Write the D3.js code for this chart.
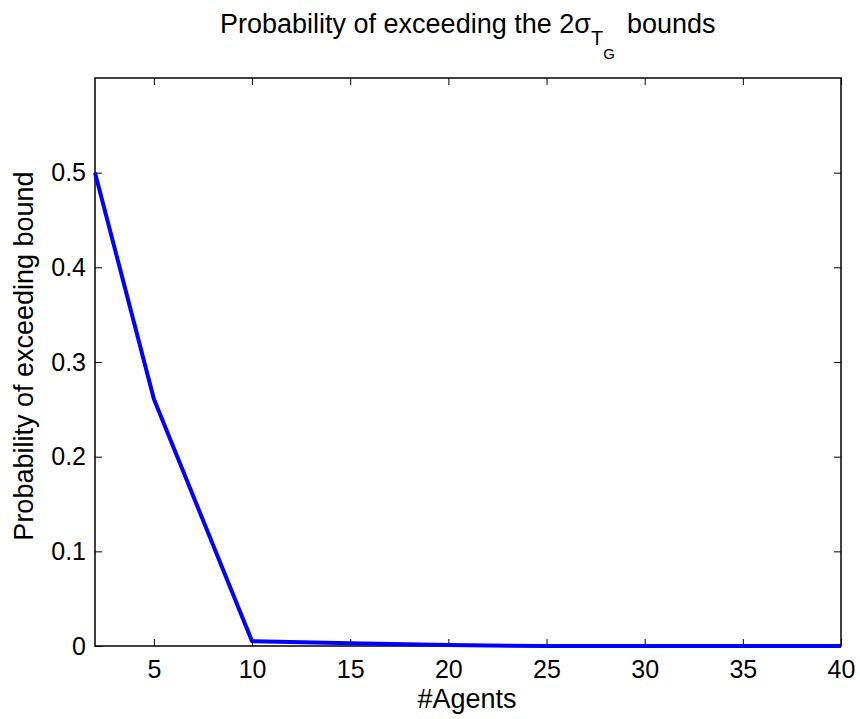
<!DOCTYPE html>
<html lang='en'>
<head>
  <meta charset='UTF-8'>
  <title>Probability of exceeding bound</title>
  <script src="https://d3js.org/d3.v7.min.js"></script>
  <style>
    body { margin: 0; background: #fff; }
    svg text { font-family: 'Liberation Sans', Arial, sans-serif; fill: #000; }
  </style>
</head>
<body>
  <div id="chart"></div>
  <script>
    const agents = [2, 5, 10, 15, 20, 25, 30, 35, 40];
    const probability = [0.5, 0.261, 0.005, 0.003, 0.001, 0, 0, 0, 0];
    const xTicks = [5, 10, 15, 20, 25, 30, 35, 40];
    const yTicks = [0, 0.1, 0.2, 0.3, 0.4, 0.5];

    const width = 860, height = 719;
    const margin = { top: 78, right: 19, bottom: 73, left: 95 };

    const svg = d3.select('#chart')
      .append('svg')
      .attr('width', width)
      .attr('height', height);

    const xScale = d3.scaleLinear()
      .domain([2, 40])
      .range([margin.left, width - margin.right]);

    const yScale = d3.scaleLinear()
      .domain([0, 0.6])
      .range([height - margin.bottom, margin.top]);

    const tickLen = 7;

    // 軸
    const xAxis = svg.append('g')
      .attr('transform', `translate(0, ${height - margin.bottom})`)
      .call(d3.axisBottom(xScale).tickValues(xTicks).tickSize(-tickLen).tickPadding(14));

    svg.append('g')
      .attr('transform', `translate(0, ${margin.top})`)
      .call(d3.axisTop(xScale).tickValues(xTicks).tickSize(-tickLen).tickFormat(''));

    svg.append('g')
      .attr('transform', `translate(${margin.left}, 0)`)
      .call(d3.axisLeft(yScale).tickValues(yTicks).tickSize(-tickLen).tickPadding(9)
        .tickFormat((d) => d === 0 ? '0' : d3.format('.1f')(d)));

    svg.append('g')
      .attr('transform', `translate(${width - margin.right}, 0)`)
      .call(d3.axisRight(yScale).tickValues(yTicks).tickSize(-tickLen).tickFormat(''));

    svg.selectAll('.domain').remove();
    svg.selectAll('.tick line').attr('stroke', '#000').attr('stroke-width', 1);
    svg.selectAll('.tick text').attr('font-size', 25).attr('font-family', "'Liberation Sans', Arial, sans-serif");
    xAxis.selectAll('.tick text').attr('dy', '0.71em');

    // 枠
    svg.append('rect')
      .attr('x', margin.left)
      .attr('y', margin.top)
      .attr('width', width - margin.left - margin.right)
      .attr('height', height - margin.top - margin.bottom)
      .attr('fill', 'none')
      .attr('stroke', '#000')
      .attr('stroke-width', 1.5);

    // 線
    const line = d3.line()
      .x((d, i) => xScale(agents[i]))
      .y((d) => yScale(d));

    svg.append('path')
      .datum(probability)
      .attr('fill', 'none')
      .attr('stroke', '#0000ff')
      .attr('stroke-width', 4)
      .attr('stroke-linejoin', 'round')
      .attr('d', line);

    // タイトル
    const title = svg.append('text')
      .attr('x', 220)
      .attr('y', 33)
      .attr('font-size', 27);
    title.append('tspan').text('Probability of exceeding the 2σ');
    title.append('tspan').attr('font-size', 20).attr('dy', 12).text('T');
    title.append('tspan').attr('font-size', 15).attr('dy', 14).text('G');
    title.append('tspan').attr('x', 627).attr('y', 33).text('bounds');

    svg.append('text')
      .attr('x', 467)
      .attr('y', 708)
      .attr('text-anchor', 'middle')
      .attr('font-size', 27)
      .text('#Agents');

    svg.append('text')
      .attr('transform', `translate(33, 356) rotate(-90)`)
      .attr('text-anchor', 'middle')
      .attr('font-size', 27)
      .text('Probability of exceeding bound');
  </script>
</body>
</html>
